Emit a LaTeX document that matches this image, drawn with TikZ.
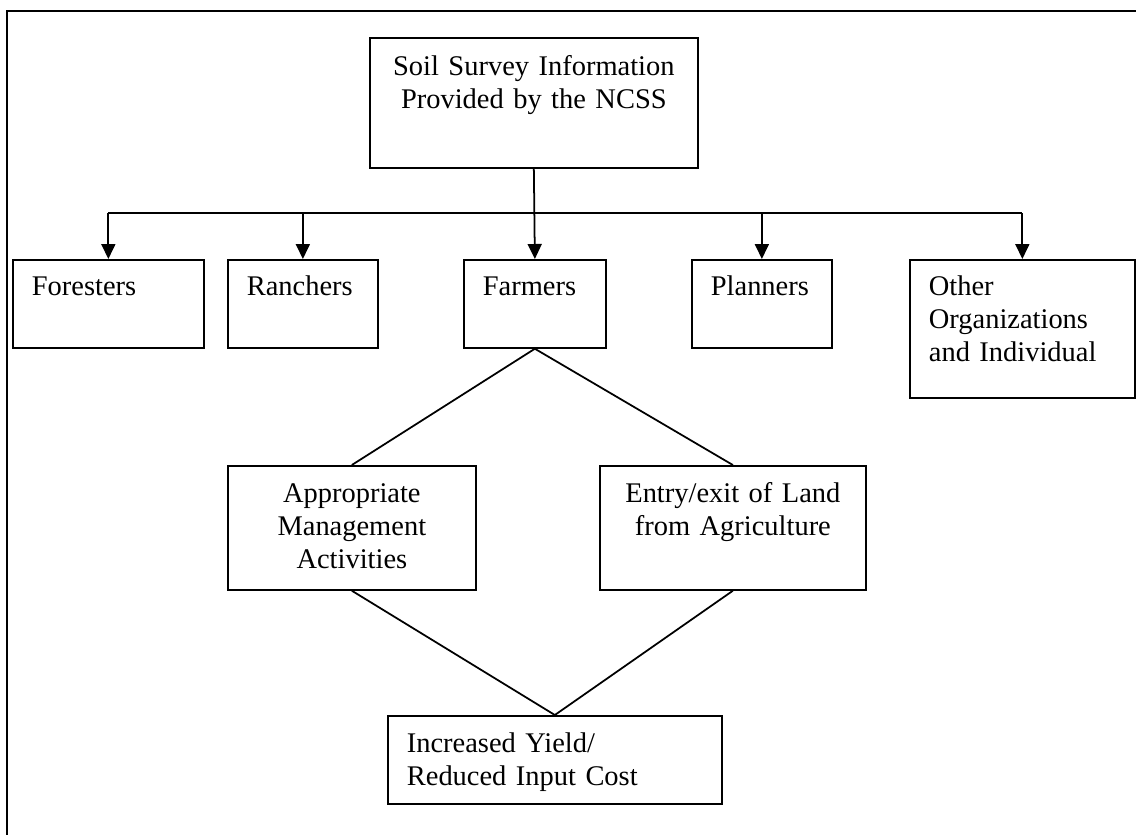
\documentclass[tikz,border=0pt]{standalone}
\usepackage{fontspec}
\setmainfont{Liberation Serif}
\usetikzlibrary{arrows.meta}

\tikzset{
	box/.style={draw, line width=1pt, anchor=north west, inner xsep=0.38cm, inner ysep=0pt, font=\fontsize{16.2pt}{18.8pt}\selectfont},
	lbox/.style={box, align=left},
	cbox/.style={box, align=center, inner xsep=0.2cm},
	link/.style={line width=1pt},
	arr/.style={line width=1pt, -{Triangle[width=0.28cm, length=0.3cm]}}
}

\begin{document}
\begin{tikzpicture}[x=0.02cm, y=-0.02cm]
	\useasboundingbox (0,0) rectangle (1136,835);
	% draw frame
	\draw[line width=1.1pt] (7,835) -- (7,11) -- (1136,11);
	% top box
	\node[cbox, text width=6.16cm, text height=0.76cm, text depth=1.84cm] (soil) at (369,37) {Soil Survey Information\\Provided by the NCSS};
	% users
	\node[lbox, text width=3.06cm, text height=0.72cm, text depth=1.04cm] (foresters) at (12,259) {Foresters};
	\node[lbox, text width=2.24cm, text height=0.72cm, text depth=1.04cm] (ranchers) at (227,259) {Ranchers};
	\node[lbox, text width=2.08cm, text height=0.72cm, text depth=1.04cm] (farmers) at (463,259) {Farmers};
	\node[lbox, text width=2.04cm, text height=0.72cm, text depth=1.04cm] (planners) at (691,259) {Planners};
	\node[lbox, text width=3.74cm, text height=0.72cm, text depth=2.04cm] (other) at (909,259) {Other\\Organizations\\and Individual};
	% farmers' choices
	\node[cbox, text width=4.56cm, text height=0.74cm, text depth=1.74cm] (manage) at (227,465) {Appropriate\\Management\\Activities};
	\node[cbox, text width=4.92cm, text height=0.74cm, text depth=1.74cm] (entry) at (599,465) {Entry/exit of Land\\from Agriculture};
	% outcome
	\node[lbox, text width=5.92cm, text height=0.74cm, text depth=1.02cm] (yield) at (387,715) {Increased Yield/\\Reduced Input Cost};

	% draw branches
	\coordinate (bar) at (533,213);
	\draw[arr] (soil.south) -- (farmers.north);
	\draw[link] (foresters.north |- bar) -- (other.north |- bar);
	\draw[arr] (foresters.north |- bar) -- (foresters.north);
	\draw[arr] (ranchers.north |- bar) -- (ranchers.north);
	\draw[arr] (planners.north |- bar) -- (planners.north);
	\draw[arr] (other.north |- bar) -- (other.north);
	% diamond
	\draw[link] (manage.north) -- (farmers.south) -- (entry.north);
	\draw[link] (manage.south) -- (yield.north) -- (entry.south);
\end{tikzpicture}
\end{document}
